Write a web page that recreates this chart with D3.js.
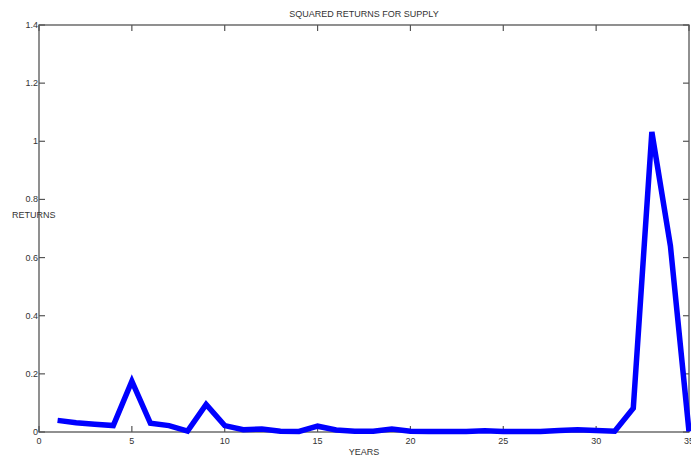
<!DOCTYPE html>
<html>
<head>
<meta charset="utf-8">
<script src="https://cdn.jsdelivr.net/npm/d3@7"></script>
<style>
body { margin: 0; background: #fff; }
text { font-family: "Liberation Sans", Arial, sans-serif; fill: #333; }
</style>
</head>
<body>
<svg id="chart" width="691" height="459"></svg>
<script>
// squared returns, years 1..35
var years = d3.range(1, 36);
var returns = [0.040, 0.032, 0.027, 0.022, 0.175, 0.030, 0.022, 0.003, 0.095, 0.022,
	0.008, 0.010, 0.003, 0.002, 0.020, 0.007, 0.003, 0.003, 0.010, 0.003,
	0.002, 0.002, 0.002, 0.004, 0.002, 0.002, 0.002, 0.005, 0.008, 0.005,
	0.003, 0.082, 1.032, 0.640, 0.002];
var xTicks = [0, 5, 10, 15, 20, 25, 30, 35];
var yTicks = [0, 0.2, 0.4, 0.6, 0.8, 1, 1.2, 1.4];

var svg = d3.select("#chart");

//plot box (note: "top" is reserved on window, so use plot* names)
var plotLeft = 39, plotRight = 689, plotTop = 25, plotBottom = 432;

var x = d3.scaleLinear().domain([0, 35]).range([plotLeft, plotRight]);
var y = d3.scaleLinear().domain([0, 1.4]).range([plotBottom, plotTop]);

var axisColor = "#555";

//frame (box)
svg.append("rect")
.attr("x", plotLeft)
.attr("y", plotTop)
.attr("width", plotRight - plotLeft)
.attr("height", plotBottom - plotTop)
.attr("fill", "none")
.attr("stroke", axisColor)
.attr("stroke-width", 1.3);

//ticks pointing inward, on all four sides
var tickLen = 6;
xTicks.forEach(function(t){
	svg.append("line").attr("x1", x(t)).attr("x2", x(t)).attr("y1", plotBottom).attr("y2", plotBottom - tickLen)
	.attr("stroke", axisColor).attr("stroke-width", 1.2);
	svg.append("line").attr("x1", x(t)).attr("x2", x(t)).attr("y1", plotTop).attr("y2", plotTop + tickLen)
	.attr("stroke", axisColor).attr("stroke-width", 1.2);
	svg.append("text")
	.attr("x", x(t))
	.attr("y", plotBottom + 12)
	.attr("text-anchor", "middle")
	.attr("font-size", 9)
	.text(d3.format("d")(t));
});

yTicks.forEach(function(t){
	svg.append("line").attr("x1", plotLeft).attr("x2", plotLeft + tickLen).attr("y1", y(t)).attr("y2", y(t))
	.attr("stroke", axisColor).attr("stroke-width", 1.2);
	svg.append("line").attr("x1", plotRight).attr("x2", plotRight - tickLen).attr("y1", y(t)).attr("y2", y(t))
	.attr("stroke", axisColor).attr("stroke-width", 1.2);
	svg.append("text")
	.attr("x", plotLeft - 1)
	.attr("y", y(t) + 3)
	.attr("text-anchor", "end")
	.attr("font-size", 9)
	.text(String(t));
});

//the line
var line = d3.line()
.x(function(d, i){ return x(years[i]); })
.y(function(d){ return y(d); });

svg.append("path")
.datum(returns)
.attr("d", line)
.attr("fill", "none")
.attr("stroke", "#0000ff")
.attr("stroke-width", 5.5)
.attr("stroke-linejoin", "miter");

//labels
svg.append("text")
.attr("x", (plotLeft + plotRight) / 2)
.attr("y", 17)
.attr("text-anchor", "middle")
.attr("font-size", 9)
.text("SQUARED RETURNS FOR SUPPLY");

svg.append("text")
.attr("x", (plotLeft + plotRight) / 2)
.attr("y", 455)
.attr("text-anchor", "middle")
.attr("font-size", 9)
.text("YEARS");

svg.append("text")
.attr("x", 12)
.attr("y", 218)
.attr("font-size", 9)
.text("RETURNS");
</script>
</body>
</html>
